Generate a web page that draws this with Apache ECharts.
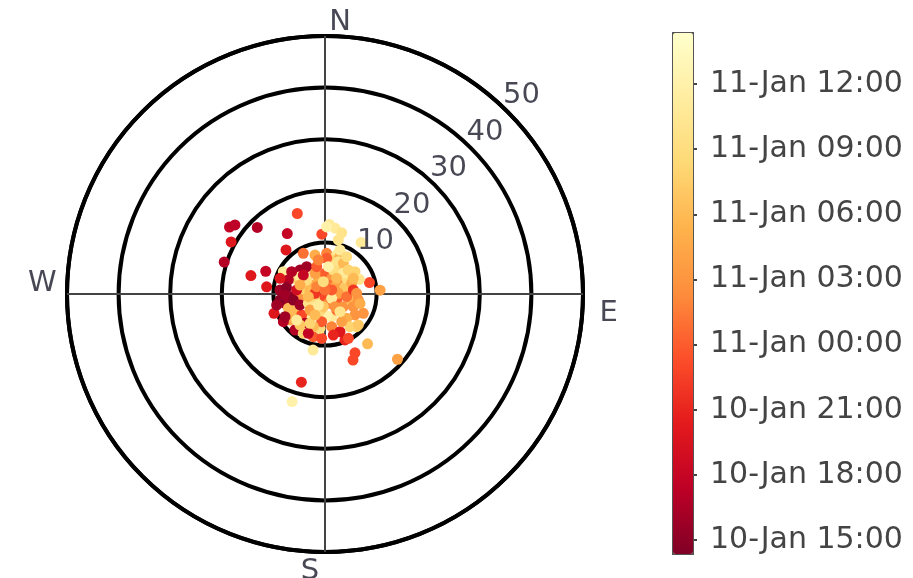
<!DOCTYPE html>
<html>
<head>
<meta charset="utf-8">
<script src="https://cdn.jsdelivr.net/npm/echarts@6/dist/echarts.min.js"></script>
<style>html,body{margin:0;padding:0;background:#fff;}#chart{width:913px;height:578px;}</style>
</head>
<body>
<div id="chart"></div>
<script>
// Radial distance values (0-50 scale)
const radius = [
 16.5,22.6,22.0,18.4,20.8,20.5,13.8,11.4,14.8,12.3,11.4,17.7,21.8,18.9,12.8,13.9,12.7,10.7,8.9,12.2,13.5,12.9,12.3,11.6,13.0,10.8,11.1,9.7,8.8,
 7.89,7.89,6.72,7.80,7.80,8.93,5.76,6.38,6.71,9.16,6.56,5.89,3.30,4.01,5.04,5.66,3.30,3.39,4.59,7.25,7.23,8.75,7.61,6.48,7.96,8.80,
 5.89,7.03,4.87,3.96,2.85,1.99,0.52,1.92,2.54,4.31,5.38,6.56,8.32,7.09,6.32,4.58,4.27,3.25,5.27,6.08,6.88,8.45,9.69,10.57,9.08,8.70,
 8.57,8.61,6.72,6.46,7.86,7.97,9.71,
 5.70,6.78,6.92,6.92,1.86,2.40,4.13,1.72,3.01,4.47,4.45,5.58,7.78,7.56,7.75,7.63,6.25,5.29,3.70,4.25,3.97,5.40,3.84,2.58,4.23,6.01,
 8.82,6.72,7.72,8.91,9.61,9.23,5.54,6.72,5.18,5.57,1.54,2.47,1.51,1.94,5.55,8.28,8.11,6.26,5.55,7.02,
 4.92,5.35,6.49,3.79,5.34,9.01,8.37,2.15,3.27,2.49,3.13,4.49,6.38,7.45,6.14,6.28,5.15,0.78,2.41,4.51
];
// Compass bearing values (degrees, N = 0, clockwise)
const bearing = [
 341,305,307.5,314.5,299,287.6,328,318.5,284,291,277,195,197,132,153,157,139.5,86,75.6,35,3.6,8.7,15.2,357,1.4,13.8,192,156.5,136,
 2.3,16.6,11.1,21.9,345.6,331.9,329.7,326.2,313.9,298.2,297.6,304.8,337,0,22.6,34.8,23,59.1,80.2,53.3,66.9,275.1,290.9,265.4,256.9,262.4,
 248.8,240.9,263.9,281.4,307.6,234.2,180,160.3,117.2,124.6,106.1,100.2,116.8,125.0,138.3,163.6,175.7,197.4,213.5,228.0,214.3,233.4,236.4,249.2,219.8,208.9,
 195.3,184.3,188.3,168.5,158.3,142.6,152.2,
 9.8,22.4,30.9,2.7,20.5,53.8,69.9,325.7,285,307.4,334.2,311.2,303.8,279.2,268.6,248.6,259.3,246.3,240.7,223.2,199,186.9,143.9,87.1,97.1,114.0,
 132.9,199.6,218.9,240.5,257.2,289.2,343.1,348.9,54.1,68.2,123.1,187.4,58.8,273.8,278.1,203,168.6,148.9,81.9,105,
 19.1,41.5,44.2,36.6,7.0,18.8,30.1,311.4,260.9,211.2,141.6,139.6,207.1,227.4,88.8,61.0,289.8,0,352.4,205.5
];
// Time values: hours after 10-Jan 00:00
const timeHours = [
 23,18,17.5,17,20,17,18,20,20,18,20,21,36,28,23,23,30,28,23,35,35,35,34,23,36,34,35,21,32,
 26,35,32,29,29,25,35,16,16,35,32,35,29,24,35,32,27,26,34,32,34,16,17,15,16,15,
 34,30,27,32,29,32,23,26,24,27,30,27,27,27,29,35,36,30,35,23,17,29,17,20,17,32,
 24,23,33,26,20,32,23,
 33,34,30,24,25,28,31,26,30,33,28,18,17,15,16,30,15,16,34,28,33,24,25,28,25,27,
 31,30,31,16,16,20,24,26,33,29,35,31,24,22,19,18,21,28,22,29,
 33,35,32,30,36,35,33,26,30,35,27,34,32,35,27,30,29,25,33,30
];
const ringValues = [10, 20, 30, 40, 50];
const compassLabels = ['N', 'E', 'S', 'W'];
const compassAngles = [0, 90, 180, 270];
const colorbarTicks = [15, 18, 21, 24, 27, 30, 33, 36];
const timeMin = 14.4, timeMax = 38.4;
const crossH = [[60.6, 270], [60.6, 90]];
const crossV = [[54.6, 0], [56, 180]];

const palette = ['#800026','#bd0026','#e31a1c','#fc4e2a','#fd8d3c','#feb24c','#fed976','#ffeda0','#ffffcc'];
const FONT = 'DejaVu Sans';

const points = radius.map((r, i) => [r, bearing[i], timeHours[i]]);
function fmtTime(v) {
  const day = v < 24 ? 10 : 11;
  const h = Math.round(v % 24);
  return day + '-Jan ' + (h < 10 ? '0' + h : h) + ':00';
}
const compassOffsets = [[15, 7], [5, 19], [-15, -1], [-4, -11]];

const chart = echarts.init(document.getElementById('chart'), null, {renderer: 'canvas'});
chart.setOption({
  animation: false,
  backgroundColor: '#fff',
  polar: { center: [325, 294], radius: 258 },
  angleAxis: {
    type: 'value', min: 0, max: 360, startAngle: 90, clockwise: true,
    axisLine: { show: true, lineStyle: { color: '#000', width: 4 } },
    axisTick: { show: false }, axisLabel: { show: false }, splitLine: { show: false }
  },
  radiusAxis: {
    type: 'value', min: 0, max: 50, interval: 10,
    axisLine: { show: false }, axisTick: { show: false }, axisLabel: { show: false },
    splitLine: { show: true, lineStyle: { color: '#000', width: 4 } }
  },
  grid: { left: 691, top: 32, width: 1, height: 521 },
  xAxis: { type: 'value', show: false, gridIndex: 0 },
  yAxis: {
    type: 'value', gridIndex: 0, min: timeMin, max: timeMax, position: 'right',
    axisLine: { show: false }, splitLine: { show: false },
    axisTick: { show: true, customValues: colorbarTicks, length: 6, lineStyle: { color: '#444', width: 2 } },
    axisLabel: { show: true, customValues: colorbarTicks, margin: 18, fontSize: 30, fontFamily: FONT, color: '#444', formatter: fmtTime }
  },
  visualMap: {
    type: 'continuous', min: timeMin, max: timeMax, dimension: 2, seriesIndex: 0,
    left: 672, top: 32, itemWidth: 20, itemHeight: 521, calculable: false,
    padding: 0, borderWidth: 2, borderColor: '#555',
    inRange: { color: palette }
  },
  series: [
    {
      type: 'scatter', coordinateSystem: 'polar', data: points,
      symbolSize: 11, z: 5, itemStyle: { opacity: 1 }
    },
    {
      type: 'line', coordinateSystem: 'polar', data: crossH, clip: false, silent: true,
      symbol: 'none', z: 1, lineStyle: { color: '#444', width: 2 }
    },
    {
      type: 'line', coordinateSystem: 'polar', data: crossV, clip: false, silent: true,
      symbol: 'none', z: 1, lineStyle: { color: '#444', width: 2 }
    },
    {
      type: 'scatter', coordinateSystem: 'polar', silent: true, z: 6,
      data: ringValues.map(v => [v, 45]), symbolSize: 1, itemStyle: { color: 'transparent' },
      label: { show: true, position: 'inside', offset: [14, -16], formatter: p => String(p.value[0]),
               fontSize: 29, fontFamily: FONT, color: '#1a1a2a' }
    },
    {
      type: 'scatter', coordinateSystem: 'polar', silent: true, z: 6, clip: false,
      data: compassAngles.map((a, i) => ({ value: [54, a], label: { offset: compassOffsets[i] } })),
      symbolSize: 1, itemStyle: { color: 'transparent' },
      label: { show: true, position: 'inside', formatter: p => compassLabels[p.dataIndex],
               fontSize: 29, fontFamily: FONT, color: '#1a1a2a' }
    }
  ]
});
</script>
</body>
</html>
